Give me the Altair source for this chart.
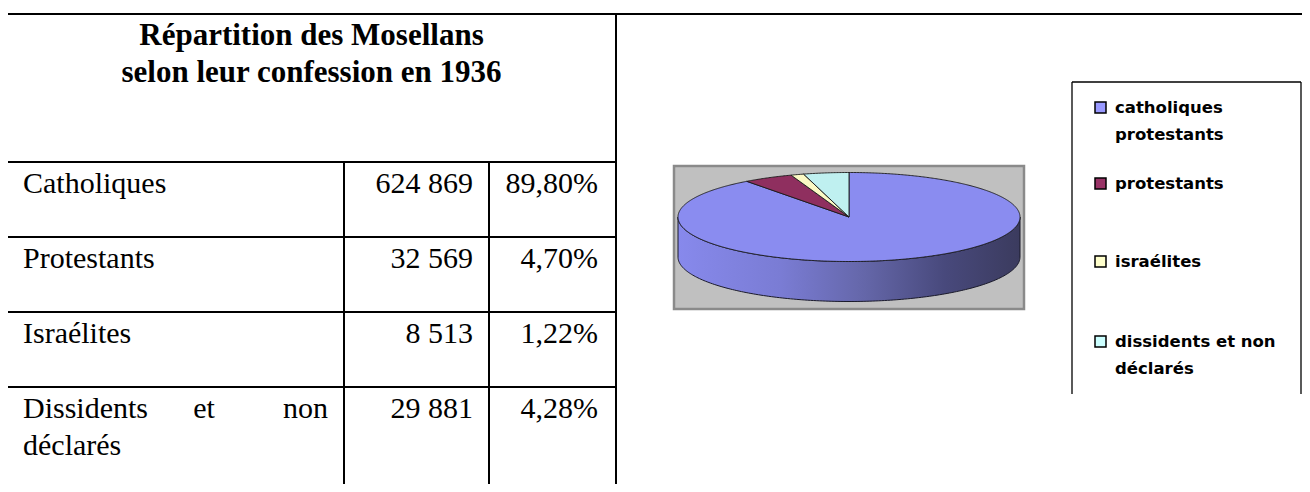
import math
import altair as alt
import pandas as pd

# ---------------- data ----------------
title_lines = ["Répartition des Mosellans", "selon leur confession en 1936"]
categories = ["Catholiques", "Protestants", "Israélites", "Dissidents et non déclarés"]
counts = [624869, 32569, 8513, 29881]
count_labels = ["624 869", "32 569", "8 513", "29 881"]
percent_labels = ["89,80%", "4,70%", "1,22%", "4,28%"]
percents = [89.80, 4.70, 1.22, 4.28]
legend_labels = [["catholiques", "protestants"], ["protestants"], ["israélites"],
                 ["dissidents et non", "déclarés"]]
slice_colors = ["#8a8cf0", "#8f2f5f", "#fbf9c4", "#bff0f0"]
legend_colors = ["#9999ff", "#993366", "#ffffcc", "#ccffff"]

# ---------------- layout (page pixels) ----------------
M = 8
W, H = 1294, 476
SERIF = "Liberation Serif"
SANS = "DejaVu Sans"


def px(v):
    return v - M


# table geometry
T_LEFT, T_RIGHT, T_TOP = 7, 616, 14
COL1, COL2 = 344, 489
ROW_TOPS = [162, 237, 312, 387]
BOTTOM = 500
ROW_BASE = 31
LINE_H = 37
PAD = 16
ET_X = 204

# pie geometry
BOX = (674, 166, 1024, 309)
CX, CY, RX, RY, DEPTH = 849, 217, 171, 44.5, 40

# legend geometry
LG_LEFT, LG_RIGHT, LG_TOP, LG_BOTTOM = 1072, 1301, 82, 394
LG_SQ_X, LG_SQ, LG_TEXT_X = 1095, 11, 1115
LG_BASES = [113, 189, 267, 347]
LG_LINE = 26.5

# ---------------- table lines ----------------
segs = [(T_LEFT, T_TOP, 1320, T_TOP), (T_LEFT, T_TOP, T_LEFT, BOTTOM),
        (T_RIGHT, T_TOP, T_RIGHT, BOTTOM)]
for y in ROW_TOPS:
    segs.append((T_LEFT, y, T_RIGHT, y))
for x in (COL1, COL2):
    segs.append((x, ROW_TOPS[0], x, BOTTOM))
lines_df = pd.DataFrame([dict(x=px(a), y=px(b), x2=px(c), y2=px(d)) for a, b, c, d in segs])

lg_segs = [(LG_LEFT, LG_TOP, LG_RIGHT, LG_TOP), (LG_LEFT, LG_TOP, LG_LEFT, LG_BOTTOM),
           (LG_RIGHT, LG_TOP, LG_RIGHT, LG_BOTTOM)]
lg_lines_df = pd.DataFrame([dict(x=px(a), y=px(b), x2=px(c), y2=px(d)) for a, b, c, d in lg_segs])


def rules(df, width, color="black"):
    return alt.Chart(df).mark_rule(strokeWidth=width, color=color).encode(
        x=alt.X("x:Q", scale=None), x2="x2:Q",
        y=alt.Y("y:Q", scale=None), y2="y2:Q")


def texts(df, align, font, size, weight="normal"):
    return alt.Chart(df).mark_text(align=align, baseline="alphabetic", font=font,
                                   fontSize=size, fontWeight=weight, color="black").encode(
        x=alt.X("x:Q", scale=None), y=alt.Y("y:Q", scale=None), text="t:N")


# title
mid = (T_LEFT + T_RIGHT) / 2
title_df = pd.DataFrame([dict(x=px(mid), y=px(45 + i * LINE_H), t=s) for i, s in enumerate(title_lines)])

# row labels
lab_rows, cnt_rows, pct_rows, just_rows = [], [], [], []
for i, cat in enumerate(categories):
    base = ROW_TOPS[i] + ROW_BASE
    cnt_rows.append(dict(x=px(COL2 - PAD), y=px(base), t=count_labels[i]))
    pct_rows.append(dict(x=px(T_RIGHT - 18), y=px(base), t=percent_labels[i]))
    if i < 3:
        lab_rows.append(dict(x=px(T_LEFT + PAD), y=px(base), t=cat))
    else:
        words = cat.split(" ")
        # justified first line "Dissidents   et   non", second line "déclarés"
        lab_rows.append(dict(x=px(T_LEFT + PAD), y=px(base), t=words[0]))
        lab_rows.append(dict(x=px(T_LEFT + PAD), y=px(base + LINE_H), t=words[3]))
        just_rows.append(dict(x=px(COL1 - PAD), y=px(base), t=words[2], a="right"))
        just_rows.append(dict(x=px(ET_X), y=px(base), t=words[1], a="center"))
lab_df = pd.DataFrame(lab_rows)
cnt_df = pd.DataFrame(cnt_rows)
pct_df = pd.DataFrame(pct_rows)
et_df = pd.DataFrame([r for r in just_rows if r["a"] == "center"])
non_df = pd.DataFrame([r for r in just_rows if r["a"] == "right"])

# ---------------- pie (3D ellipse) ----------------
def pt(theta_deg, dy=0.0):
    t = math.radians(theta_deg)
    return [px(CX + RX * math.sin(t)), px(CY - RY * math.cos(t) + dy)]


total = sum(percents)
features = []
start = 0.0
for cat, p in zip(categories, percents):
    end = start + 360.0 * p / total
    n = max(4, int((end - start) * 2))
    ring = [[px(CX), px(CY)]] + [pt(start + (end - start) * k / n) for k in range(n + 1)] + [[px(CX), px(CY)]]
    features.append({"type": "Feature", "properties": {"name": cat},
                     "geometry": {"type": "Polygon", "coordinates": [ring]}})
    start = end

side_ring = [pt(90 + k) for k in range(0, 181)] + [pt(270 - k, DEPTH) for k in range(0, 181)]
side_ring.append(side_ring[0])
side_feat = [{"type": "Feature", "properties": {"name": "side"},
              "geometry": {"type": "Polygon", "coordinates": [side_ring]}}]

proj = dict(type="identity", scale=1, translate=[0, 0])

box_df = pd.DataFrame([dict(x=px(BOX[0]), y=px(BOX[1]), x2=px(BOX[2]), y2=px(BOX[3]))])
box = alt.Chart(box_df).mark_rect(fill="#c0c0c0", stroke="#8a8a8a", strokeWidth=2.5).encode(
    x=alt.X("x:Q", scale=None), x2="x2:Q", y=alt.Y("y:Q", scale=None), y2="y2:Q")

side_grad = alt.Gradient(
    gradient="linear", x1=0, x2=1, y1=0, y2=0,
    stops=[alt.GradientStop(color="#8789ec", offset=0),
           alt.GradientStop(color="#7a7cd4", offset=0.3),
           alt.GradientStop(color="#6466a8", offset=0.55),
           alt.GradientStop(color="#48497c", offset=0.78),
           alt.GradientStop(color="#3b3b5e", offset=1)])
side = alt.Chart(alt.Data(values=side_feat)).mark_geoshape(
    fill=side_grad, stroke="#1a1a2a", strokeWidth=1).project(**proj)

slices = alt.Chart(alt.Data(values=features)).mark_geoshape(
    stroke="#1a1a1a", strokeWidth=0.9).encode(
    color=alt.Color("properties.name:N", scale=alt.Scale(domain=categories, range=slice_colors),
                    legend=None)).project(**proj)

# ---------------- legend ----------------
sq_rows, lt_rows = [], []
for i, lines in enumerate(legend_labels):
    b = LG_BASES[i]
    sq_rows.append(dict(x=px(LG_SQ_X), y=px(b - LG_SQ), x2=px(LG_SQ_X + LG_SQ), y2=px(b), c=categories[i]))
    for j, s in enumerate(lines):
        lt_rows.append(dict(x=px(LG_TEXT_X), y=px(b + j * LG_LINE), t=s))
sq_df = pd.DataFrame(sq_rows)
lt_df = pd.DataFrame(lt_rows)
squares = alt.Chart(sq_df).mark_rect(stroke="black", strokeWidth=1.5).encode(
    x=alt.X("x:Q", scale=None), x2="x2:Q", y=alt.Y("y:Q", scale=None), y2="y2:Q",
    color=alt.Color("c:N", scale=alt.Scale(domain=categories, range=legend_colors), legend=None))

chart = alt.layer(
    rules(lines_df, 2),
    rules(lg_lines_df, 1.3),
    texts(title_df, "center", SERIF, 31, "bold"),
    texts(lab_df, "left", SERIF, 30),
    texts(et_df, "center", SERIF, 30),
    texts(non_df, "right", SERIF, 30),
    texts(cnt_df, "right", SERIF, 30),
    texts(pct_df, "right", SERIF, 30),
    box, side, slices,
    squares,
    texts(lt_df, "left", SANS, 16.5, "bold"),
).resolve_scale(color="independent").properties(
    width=W, height=H, padding=0, autosize=alt.AutoSizeParams(type="none"),
    background="white"
).configure_view(stroke=None)

chart.save("out.html", embed_options={"renderer": "svg", "actions": False})
